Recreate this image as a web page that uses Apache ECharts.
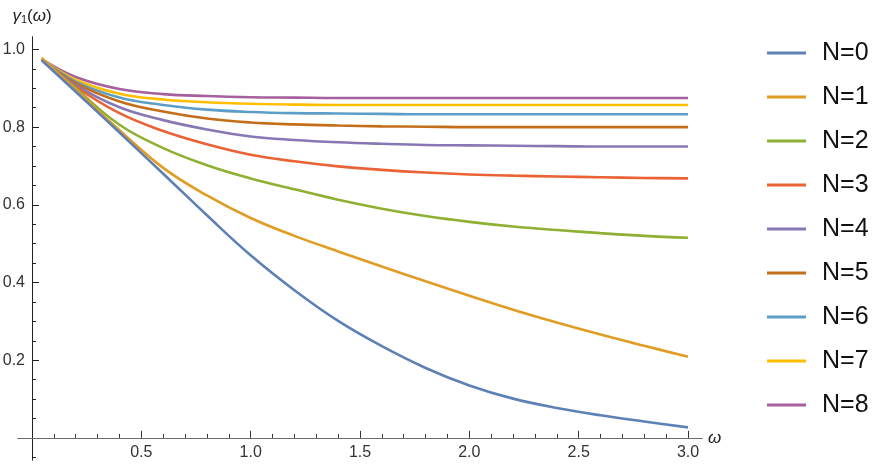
<!DOCTYPE html>
<html>
<head>
<meta charset="utf-8">
<title>gamma1</title>
<script src="https://cdn.jsdelivr.net/npm/echarts@6/dist/echarts.min.js"></script>
<style>
  html, body { margin: 0; padding: 0; background: #fff; }
  #chart { width: 885px; height: 464px; }
</style>
</head>
<body>
<div id="chart"></div>
<script>
  // values
  const omega = [0.044, 0.2, 0.4, 0.6, 0.8, 1.0, 1.2, 1.4, 1.6, 1.8, 2.0, 2.2, 2.4, 2.6, 2.8, 3.0];
  const n0 = [0.972, 0.891, 0.786, 0.680, 0.573, 0.470, 0.380, 0.301, 0.236, 0.180, 0.135, 0.101, 0.077, 0.058, 0.042, 0.027];
  const n1 = [0.978, 0.896, 0.792, 0.695, 0.624, 0.566, 0.520, 0.480, 0.441, 0.403, 0.366, 0.330, 0.297, 0.266, 0.237, 0.209];
  const n2 = [0.975, 0.900, 0.806, 0.746, 0.702, 0.668, 0.640, 0.613, 0.590, 0.571, 0.556, 0.544, 0.535, 0.527, 0.520, 0.515];
  const n3 = [0.975, 0.904, 0.836, 0.790, 0.756, 0.729, 0.712, 0.699, 0.690, 0.683, 0.678, 0.675, 0.673, 0.671, 0.669, 0.668];
  const n4 = [0.975, 0.908, 0.851, 0.818, 0.794, 0.776, 0.767, 0.761, 0.757, 0.754, 0.753, 0.752, 0.751, 0.750, 0.750, 0.750];
  const n5 = [0.975, 0.913, 0.866, 0.840, 0.822, 0.812, 0.807, 0.804, 0.802, 0.801, 0.800, 0.800, 0.800, 0.800, 0.800, 0.800];
  const n6 = [0.975, 0.917, 0.876, 0.857, 0.845, 0.839, 0.836, 0.835, 0.834, 0.833, 0.833, 0.833, 0.833, 0.833, 0.833, 0.833];
  const n7 = [0.975, 0.922, 0.886, 0.871, 0.864, 0.860, 0.858, 0.857, 0.857, 0.857, 0.857, 0.857, 0.857, 0.857, 0.857, 0.857];
  const n8 = [0.975, 0.929, 0.898, 0.885, 0.880, 0.877, 0.876, 0.875, 0.875, 0.875, 0.875, 0.875, 0.875, 0.875, 0.875, 0.875];
  const names = ['N=0', 'N=1', 'N=2', 'N=3', 'N=4', 'N=5', 'N=6', 'N=7', 'N=8'];
  const curves = [n0, n1, n2, n3, n4, n5, n6, n7, n8];
  const colors = ['#5e81b5', '#e19c24', '#8fb032', '#eb6235', '#8778b3', '#c56e1a', '#5d9ec7', '#ffbf00', '#a5609d'];

  const xMajor = [0.5, 1.0, 1.5, 2.0, 2.5, 3.0];
  const xMinor = [0.1, 0.2, 0.3, 0.4, 0.6, 0.7, 0.8, 0.9, 1.1, 1.2, 1.3, 1.4, 1.6, 1.7, 1.8, 1.9,
    2.1, 2.2, 2.3, 2.4, 2.6, 2.7, 2.8, 2.9];
  const yMajor = [0.2, 0.4, 0.6, 0.8, 1.0];
  const yMinor = [-0.05, 0.05, 0.1, 0.15, 0.25, 0.3, 0.35, 0.45, 0.5, 0.55, 0.65, 0.7, 0.75,
    0.85, 0.9, 0.95];

  const font = '"Liberation Sans", Arial, sans-serif';
  const xMin = -0.064, xMax = 3.064, yMin = -0.057, yMax = 1.032;

  let chart = echarts.init(document.getElementById('chart'));

  let series = [];
  for (let i = 0; i < curves.length; i++) {
    let pts = [];
    for (let j = 0; j < omega.length; j++) {
      pts.push([omega[j], curves[i][j]]);
    }
    series.push({
      name: names[i],
      type: 'line',
      data: pts,
      showSymbol: false,
      smooth: 0.4,
      lineStyle: { width: 2.6 },
      z: 10 - i
    });
  }

  chart.setOption({
    animation: false,
    color: colors,
    textStyle: { fontFamily: font },
    grid: {
      left: 18,
      right: 183,
      top: 37,
      bottom: 4,
      containLabel: false,
      outerBoundsMode: 'none'
    },
    legend: {
      orient: 'vertical',
      left: 762,
      top: 33,
      icon: 'rect',
      itemWidth: 39,
      itemHeight: 3,
      itemGap: 14,
      data: names,
      textStyle: {
        fontFamily: font,
        fontSize: 25,
        lineHeight: 30,
        color: '#111',
        padding: [0, 0, 0, 11]
      }
    },
    xAxis: [
      {
        type: 'value',
        min: xMin,
        max: xMax,
        position: 'bottom',
        name: 'ω',
        nameLocation: 'end',
        nameGap: 6,
        nameTextStyle: { fontFamily: font, fontSize: 17, fontStyle: 'italic', color: '#222' },
        axisLine: { onZero: true, onZeroAxisIndex: 0, lineStyle: { color: '#6b6b6b', width: 1 } },
        axisTick: { show: true, inside: true, length: 7, customValues: xMajor, lineStyle: { color: '#333' } },
        axisLabel: {
          customValues: xMajor,
          margin: -15,
          fontSize: 16,
          color: '#333',
          formatter: function (v) { return v.toFixed(1); }
        },
        splitLine: { show: false }
      },
      {
        type: 'value',
        min: xMin,
        max: xMax,
        position: 'bottom',
        axisLine: { show: true, onZero: true, onZeroAxisIndex: 0, lineStyle: { color: '#6b6b6b', width: 1 } },
        axisTick: { show: true, inside: true, length: 4, customValues: xMinor, lineStyle: { color: '#333' } },
        axisLabel: { show: false },
        splitLine: { show: false }
      }
    ],
    yAxis: [
      {
        type: 'value',
        min: yMin,
        max: yMax,
        position: 'left',
        name: '{i|γ}{s|1}({i|ω})',
        nameLocation: 'end',
        nameGap: 12,
        nameTextStyle: {
          fontFamily: font,
          fontSize: 17,
          color: '#222',
          rich: {
            i: { fontFamily: font, fontSize: 17, fontStyle: 'italic', color: '#222' },
            s: { fontFamily: font, fontSize: 11, color: '#222', verticalAlign: 'bottom' }
          }
        },
        axisLine: { onZero: true, onZeroAxisIndex: 0, lineStyle: { color: '#222', width: 1 } },
        axisTick: { show: true, inside: true, length: 7, customValues: yMajor, lineStyle: { color: '#222' } },
        axisLabel: {
          customValues: yMajor,
          margin: -7,
          fontSize: 16,
          color: '#333',
          formatter: function (v) { return v.toFixed(1); }
        },
        splitLine: { show: false }
      },
      {
        type: 'value',
        min: yMin,
        max: yMax,
        position: 'left',
        axisLine: { show: true, onZero: true, onZeroAxisIndex: 0, lineStyle: { color: '#222', width: 1 } },
        axisTick: { show: true, inside: true, length: 4, customValues: yMinor, lineStyle: { color: '#222' } },
        axisLabel: { show: false },
        splitLine: { show: false }
      }
    ],
    series: series
  });
</script>
</body>
</html>
